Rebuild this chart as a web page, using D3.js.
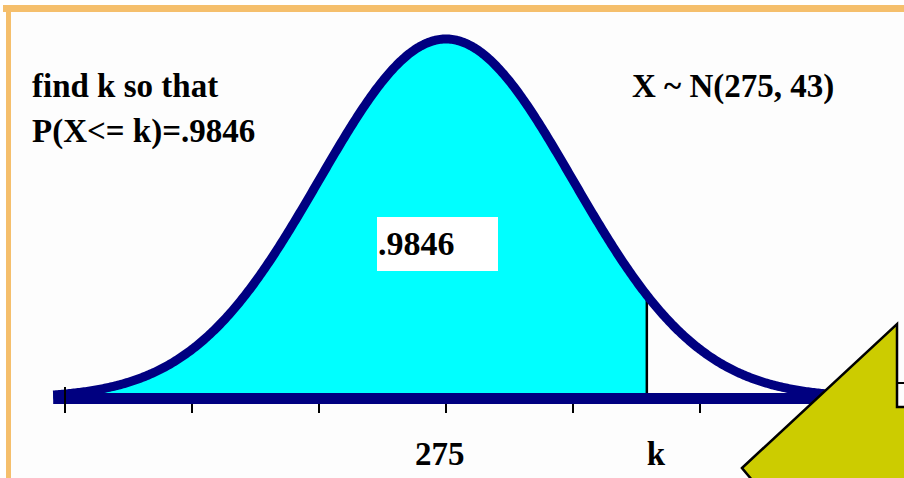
<!DOCTYPE html>
<html>
<head>
<meta charset="utf-8">
<script src="https://cdn.jsdelivr.net/npm/d3@7"></script>
<style>
  html, body { margin: 0; padding: 0; background: #ffffff; }
  svg { display: block; }
  text { font-family: "Liberation Serif", "Times New Roman", serif; font-weight: bold; fill: #000; }
</style>
</head>
<body>
<svg id="chart" width="904" height="478"></svg>
<script>
// ---- data ----
const mean = 275;
const sd = 43;
const prob = 0.9846;
const kDrawn = 343;            // position of the k marker as drawn in the picture
const tickValues = [146, 189, 232, 275, 318, 361, 404];   // one tick every sd
const xLabels = [{ v: 275, t: "275" }, { v: kDrawn, t: "k" }];
const leftLines = ["find k so that", "P(X<= k)=.9846"];
const distLabel = "X ~ N(275, 43)";
const areaLabel = ".9846";
const curveRange = [142, 410];   // x-extent of the drawn curve (value units)

// ---- layout ----
const W = 904, H = 478;
const svg = d3.select("#chart");

const x = d3.scaleLinear().domain([146, 404]).range([65, 827]);
const y = d3.scaleLinear().domain([0, 1]).range([398, 39]);

const rel = v => Math.exp(-0.5 * Math.pow((v - mean) / sd, 2));
const pts = d3.range(curveRange[0], curveRange[1] + 0.01, 0.5).map(v => ({ v, d: rel(v) }));
const fillPts = pts.filter(p => p.v <= kDrawn).concat([{ v: kDrawn, d: rel(kDrawn) }]);

// background & frame
svg.append("rect").attr("x", 0).attr("y", 0).attr("width", W).attr("height", H).attr("fill", "#ffffff");
svg.append("rect").attr("x", 8).attr("y", 12).attr("width", W - 8).attr("height", H - 12).attr("fill", "#fdfdfd");
svg.append("rect").attr("x", 3).attr("y", 5).attr("width", W - 3).attr("height", 7).attr("fill", "#f5bf6c");
svg.append("rect").attr("x", 6).attr("y", 5).attr("width", 5).attr("height", H - 5).attr("fill", "#f5bf6c");

// shaded area
const area = d3.area().x(d => x(d.v)).y0(y(0)).y1(d => y(d.d));
svg.append("path").datum(fillPts).attr("d", area).attr("fill", "#00ffff");

// k marker line
svg.append("line")
  .attr("x1", x(kDrawn)).attr("x2", x(kDrawn))
  .attr("y1", y(rel(kDrawn)) + 3).attr("y2", y(0))
  .attr("stroke", "#000").attr("stroke-width", 2.5);

// curve
const line = d3.line().x(d => x(d.v)).y(d => y(d.d));
svg.append("path").datum(pts).attr("d", line)
  .attr("fill", "none").attr("stroke", "#000080").attr("stroke-width", 9).attr("stroke-linejoin", "round");

// axis band
svg.append("rect")
  .attr("x", x(curveRange[0])).attr("y", y(0) - 5)
  .attr("width", x(curveRange[1]) + 10 - x(curveRange[0])).attr("height", 11)
  .attr("fill", "#000080");

// ticks
svg.selectAll("line.tick").data(tickValues).enter().append("line")
  .attr("class", "tick")
  .attr("x1", d => x(d)).attr("x2", d => x(d))
  .attr("y1", (d, i) => i === 0 ? y(0) - 11 : y(0) + 6)
  .attr("y2", y(0) + 15)
  .attr("stroke", "#000").attr("stroke-width", 2);

// x labels
svg.selectAll("text.xl").data(xLabels).enter().append("text")
  .attr("class", "xl")
  .attr("x", d => d.v === mean ? x(d.v) - 31 : x(d.v))
  .attr("y", 465)
  .attr("font-size", 33)
  .text(d => d.t);

// left text
svg.selectAll("text.lt").data(leftLines).enter().append("text")
  .attr("class", "lt")
  .attr("x", 32).attr("y", (d, i) => 97 + i * 45)
  .attr("font-size", 33)
  .text(d => d);

// distribution label
svg.append("text").attr("x", 632).attr("y", 97).attr("font-size", 33).text(distLabel);

// area label box
svg.append("rect").attr("x", 377).attr("y", 217).attr("width", 121).attr("height", 54).attr("fill", "#ffffff");
svg.append("text").attr("x", 378).attr("y", 255).attr("font-size", 34).text(areaLabel);

// callout triangle (decoration)
svg.append("line").attr("x1", 896).attr("x2", 906).attr("y1", 383).attr("y2", 383)
  .attr("stroke", "#000").attr("stroke-width", 2);
svg.append("path")
  .attr("d", "M742,468 L897,324 L897,407 L912,407 L912,492 L762,492 Z")
  .attr("fill", "#cccc00").attr("stroke", "#000").attr("stroke-width", 2.5).attr("stroke-linejoin", "miter");
</script>
</body>
</html>
